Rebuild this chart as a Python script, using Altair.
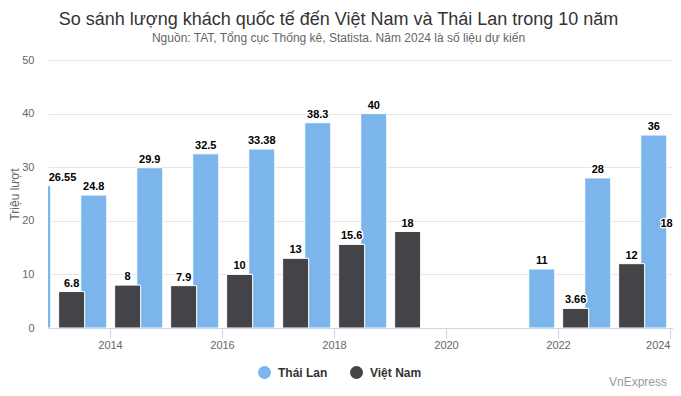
import altair as alt
import pandas as pd

# ---- data ----
years = [2013, 2014, 2015, 2016, 2017, 2018, 2019, 2020, 2021, 2022, 2023, 2024]
thai = [26.55, 24.8, 29.9, 32.5, 33.38, 38.3, 40, None, None, 11, 28, 36]
vietnam = [6.8, 8, 7.9, 10, 13, 15.6, 18, None, None, 3.66, 12, 18]
series_names = ["Thái Lan", "Việt Nam"]
series_colors = ["#7cb5ec", "#434348"]
x_ticks = [2014, 2016, 2018, 2020, 2022, 2024]
y_ticks = [0, 10, 20, 30, 40, 50]

rows = []
for y, v in zip(years, thai):
    if v is not None:
        rows.append({"year": y, "series": series_names[0], "value": v, "off": -0.29})
for y, v in zip(years, vietnam):
    if v is not None:
        rows.append({"year": y, "series": series_names[1], "value": v, "off": 0.315})
df = pd.DataFrame(rows)

FONT = "Liberation Sans"
PLOT_W = 625
X_MIN = 2012.893
X_MAX = X_MIN + PLOT_W / 56.0

base = alt.Chart(df).transform_calculate(
    x0="datum.year + datum.off - 0.232",
    x1="datum.year + datum.off + 0.232",
    lx="clamp(datum.year + datum.off, 2013.152, 2023.94)",
    lab="'' + datum.value",
)

xscale = alt.Scale(domain=[X_MIN, X_MAX], nice=False, zero=False, padding=0)
yscale = alt.Scale(domain=[0, 50], nice=False, padding=0)

bars = base.mark_bar(clip=True, stroke="white", strokeWidth=1, orient="vertical").encode(
    x=alt.X(
        "x0:Q",
        scale=xscale,
        axis=alt.Axis(
            values=x_ticks, format="d", grid=False, title=None,
            domainColor="#ccd6eb", tickColor="#ccd6eb", tickSize=10,
            labelPadding=1, labelColor="#666666", labelFontSize=11, labelFont=FONT,
            labelAlign={"condition": {"test": "datum.value == 2024", "value": "right"}, "value": "center"},
        ),
    ),
    x2="x1:Q",
    y=alt.Y(
        "value:Q",
        scale=yscale,
        axis=alt.Axis(
            values=y_ticks, grid=True, gridColor="#e6e6e6", domain=False, ticks=False,
            labelPadding=14, labelColor="#666666", labelFontSize=11, labelFont=FONT,
            title="Triệu lượt", titleColor="#666666", titleFontSize=12,
            titleFontWeight="normal", titleFont=FONT, titleX=-39, titleY=134,
            titleBaseline="top", titleAlign="center",
        ),
    ),
    y2=alt.datum(0),
    color=alt.Color(
        "series:N",
        scale=alt.Scale(domain=series_names, range=series_colors),
        legend=alt.Legend(
            orient="none", legendX=210, legendY=306, direction="horizontal", title=None,
            symbolType="circle", symbolSize=169, symbolStrokeWidth=0, symbolOpacity=1,
            labelFontSize=12, labelFontWeight="bold", labelColor="#333333", labelFont=FONT,
            labelOffset=7, columnPadding=22,
        ),
    ),
)

halo = base.mark_text(
    fontWeight="bold", fontSize=11, font=FONT, stroke="white", strokeWidth=2.5,
    strokeJoin="round", dy=-5, baseline="alphabetic", align="center", color="white",
).encode(x=alt.X("lx:Q", scale=xscale), y=alt.Y("value:Q", scale=yscale), text="lab:N")

labels = base.mark_text(
    fontWeight="bold", fontSize=11, font=FONT, dy=-5, baseline="alphabetic",
    align="center", color="#000000",
).encode(x=alt.X("lx:Q", scale=xscale), y=alt.Y("value:Q", scale=yscale), text="lab:N")

credit = alt.Chart(pd.DataFrame({"c": ["VnExpress"]})).mark_text(
    align="right", baseline="alphabetic", fontSize=12, font=FONT, color="#999999"
).encode(x=alt.value(619), y=alt.value(326), text="c:N")

chart = alt.layer(bars, halo, labels, credit).properties(
    width=PLOT_W,
    height=268,
    autosize=alt.AutoSizeParams(type="none"),
    padding={"left": 40, "top": 52, "right": 0, "bottom": 60},
    title=alt.Title(
        text="So sánh lượng khách quốc tế đến Việt Nam và Thái Lan trong 10 năm",
        subtitle="Nguồn: TAT, Tổng cục Thống kê, Statista. Năm 2024 là số liệu dự kiến",
        fontSize=18, font=FONT, color="#333333", fontWeight="normal",
        subtitleFontSize=12, subtitleFont=FONT, subtitleColor="#666666",
        anchor="middle", dx=-22, offset=10, subtitlePadding=4,
    ),
).configure_view(stroke=None)

chart.save("out.html", embed_options={"renderer": "svg", "actions": False})
